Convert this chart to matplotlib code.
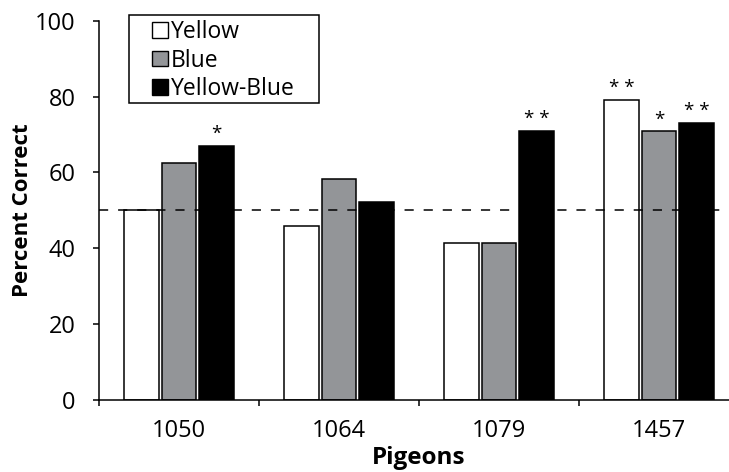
import numpy as np
import matplotlib
matplotlib.use('Agg')
import matplotlib.pyplot as plt
from matplotlib.patches import Patch, Rectangle

plt.rcParams['font.family'] = ['Open Sans', 'DejaVu Sans']

# data
pigeons = ['1050', '1064', '1079', '1457']
yellow = [50.0, 45.8, 41.5, 79.1]
blue = [62.6, 58.3, 41.5, 70.8]
yellow_blue = [67.0, 52.2, 70.9, 73.1]
stars_yellow = ['', '', '', '* *']
stars_blue = ['', '', '', '*']
stars_yb = ['*', '', '* *', '* *']
chance = 50

fig = plt.figure(figsize=(7.29, 4.72), dpi=100)
ax = fig.add_axes([99 / 729, 72 / 472, 640 / 729, 379.3 / 472])

x = np.arange(len(pigeons))
w = 0.215
off = 0.235
series = [(yellow, 'white', stars_yellow, -off),
          (blue, '#939598', stars_blue, 0),
          (yellow_blue, 'black', stars_yb, off)]
for vals, col, stars, dx in series:
    ax.bar(x + dx, vals, width=w, color=col, edgecolor='black', linewidth=1.1, zorder=2)
    for xi, v, s in zip(x, vals, stars):
        if s:
            ax.text(xi + dx, v + 0.8, s, ha='center', va='bottom', fontsize=13.5)

ax.axhline(chance, color='black', lw=1.1, ls=(0, (6, 6.5)), zorder=3)

ax.set_xlim(-0.5, 3.5)
ax.set_ylim(0, 100)
ax.set_yticks(range(0, 101, 20))
ax.set_xticks(np.arange(-0.5, 4, 1))
ax.set_xticklabels([])
ax.set_xticks(x, minor=True)
ax.set_xticklabels(pigeons, minor=True)
ax.tick_params(axis='x', which='minor', length=0, pad=13.5, labelsize=17)
ax.tick_params(axis='x', which='major', length=4, width=1.1, direction='out')
ax.tick_params(axis='y', length=4, width=1.1, direction='out', pad=13, labelsize=17)

for s in ['top', 'right']:
    ax.spines[s].set_visible(False)
for s in ['left', 'bottom']:
    ax.spines[s].set_linewidth(1.1)

ax.set_ylabel('Percent Correct', fontsize=16, fontweight='bold', labelpad=1.5)
ax.set_xlabel('Pigeons', fontsize=17.5, fontweight='bold', labelpad=2)

handles = [Patch(facecolor='white', edgecolor='black', label='Yellow'),
           Patch(facecolor='#939598', edgecolor='black', label='Blue'),
           Patch(facecolor='black', edgecolor='black', label='Yellow-Blue')]
leg = fig.legend(handles=handles, loc='upper left', bbox_to_anchor=(152 / 729, 1 - 20 / 472),
                 fontsize=16.5, frameon=False, handlelength=0.68,
                 handleheight=0.68, handletextpad=0.15, labelspacing=0.2,
                 borderpad=0.0, borderaxespad=0)
# legend box is wider than the entries, so draw it by hand
fig.patches.append(Rectangle((129 / 729, 1 - 103 / 472), 190 / 729, 88 / 472,
                             transform=fig.transFigure, fill=False,
                             edgecolor='black', linewidth=1.1))

plt.savefig('out.png', dpi=100)
